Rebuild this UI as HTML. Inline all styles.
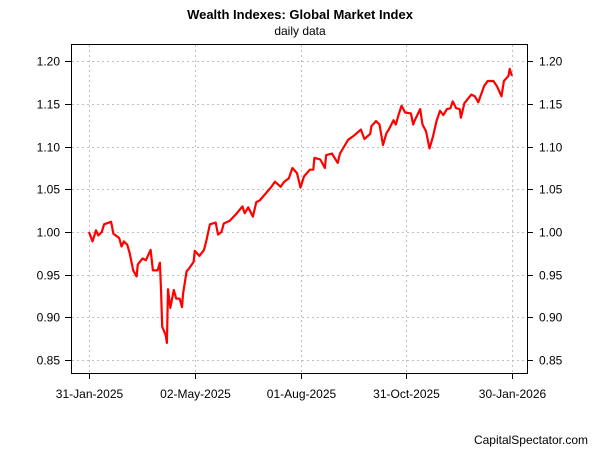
<!DOCTYPE html>
<html><head><meta charset="utf-8"><style>
body{margin:0;background:#fff;}
svg text{font-family:"Liberation Sans",Arial,sans-serif;}
</style></head><body>
<svg id="chart" width="600" height="450" xmlns="http://www.w3.org/2000/svg">
<rect width="600" height="450" fill="#fff"/>
<text x="300" y="19" text-anchor="middle" font-size="13" font-weight="bold">Wealth Indexes: Global Market Index</text>
<text x="300" y="35" text-anchor="middle" font-size="12">daily data</text>
<text x="588" y="444" text-anchor="end" font-size="12">CapitalSpectator.com</text>
<g id="grid"></g>
<rect x="71.5" y="44.5" width="456" height="329" fill="none" stroke="#000"/>
<g id="axes"></g>
<path id="line" fill="none" stroke="#ff0000" stroke-width="2.2" stroke-linejoin="round"/>
</svg>
<script>
const days=[0,3,6,8,11,13,19,21,26,28,30,33,35,38,41,42,46,49,53,55,59,61,62,63,66,67,68,70,73,75,78,80,81,84,86,90,91,95,99,101,104,109,111,114,116,121,126,132,134,137,141,144,147,157,160,165,168,172,175,179,182,185,190,193,194,199,203,204,209,214,216,223,228,234,237,242,243,247,250,253,256,258,262,264,267,269,272,277,279,280,285,287,290,293,296,299,302,305,308,311,313,316,319,320,323,329,332,335,340,343,348,351,355,357,361,362,364];
const values=[1.000,0.989,1.002,0.996,1.000,1.009,1.012,0.998,0.993,0.983,0.989,0.985,0.975,0.955,0.948,0.962,0.969,0.967,0.979,0.955,0.955,0.964,0.933,0.889,0.879,0.870,0.933,0.911,0.932,0.922,0.922,0.912,0.928,0.954,0.957,0.965,0.978,0.972,0.979,0.990,1.009,1.011,0.997,1.000,1.010,1.013,1.020,1.030,1.022,1.029,1.018,1.035,1.037,1.053,1.059,1.053,1.059,1.063,1.075,1.069,1.052,1.065,1.073,1.073,1.087,1.085,1.075,1.090,1.092,1.081,1.092,1.108,1.113,1.120,1.109,1.115,1.124,1.130,1.126,1.102,1.116,1.120,1.131,1.126,1.140,1.148,1.140,1.139,1.126,1.130,1.144,1.126,1.118,1.098,1.112,1.130,1.142,1.137,1.144,1.145,1.153,1.145,1.144,1.134,1.151,1.161,1.159,1.152,1.171,1.177,1.177,1.171,1.159,1.177,1.183,1.191,1.183];
const xTickDays=[0,91,182,273,364];
const xTickLabels=["31-Jan-2025","02-May-2025","01-Aug-2025","31-Oct-2025","30-Jan-2026"];
const yTicks=[0.85,0.90,0.95,1.00,1.05,1.10,1.15,1.20];
const X=d=>89+d*(512-89)/364;
const Y=v=>232-(v-1)*853.3;
const NS="http://www.w3.org/2000/svg";
const grid=document.getElementById('grid'),axes=document.getElementById('axes');
function mk(tag,attrs,parent){const e=document.createElementNS(NS,tag);for(const k in attrs)e.setAttribute(k,attrs[k]);parent.appendChild(e);return e;}
xTickDays.forEach((d,i)=>{
 const x=Math.round(X(d))+0.5;
 const g=mk('line',{x1:x,x2:x,y1:45,y2:373,stroke:'#c0c0c0','stroke-dasharray':'2,3'},grid);
 
 
 const t=mk('line',{x1:x,x2:x,y1:373,y2:379,stroke:'#000'},axes);
 
 
 const l=mk('text',{x:x,y:398,'text-anchor':'middle','font-size':'12'},axes);
 l.textContent=xTickLabels[i];
 
 
});
yTicks.forEach(v=>{
 const y=Math.round(Y(v))+0.5;
 const g=mk('line',{x1:72,x2:527,y1:y,y2:y,stroke:'#c0c0c0','stroke-dasharray':'2,3'},grid);
 
 
 [[65,71],[527,533]].forEach(([a,b])=>{
  const t=mk('line',{x1:a,x2:b,y1:y,y2:y,stroke:'#000'},axes);
  
  
 });
 const l=mk('text',{x:60,y:y+4,'text-anchor':'end','font-size':'12'},axes);
 l.textContent=v.toFixed(2);
 
 
 const r=mk('text',{x:539,y:y+4,'text-anchor':'start','font-size':'12'},axes);
 r.textContent=v.toFixed(2);
 
 
});
document.getElementById('line').setAttribute('d',days.map((d,i)=>(i?'L':'M')+X(d).toFixed(1)+','+Y(values[i]).toFixed(1)).join(''));
</script>
</body></html>
